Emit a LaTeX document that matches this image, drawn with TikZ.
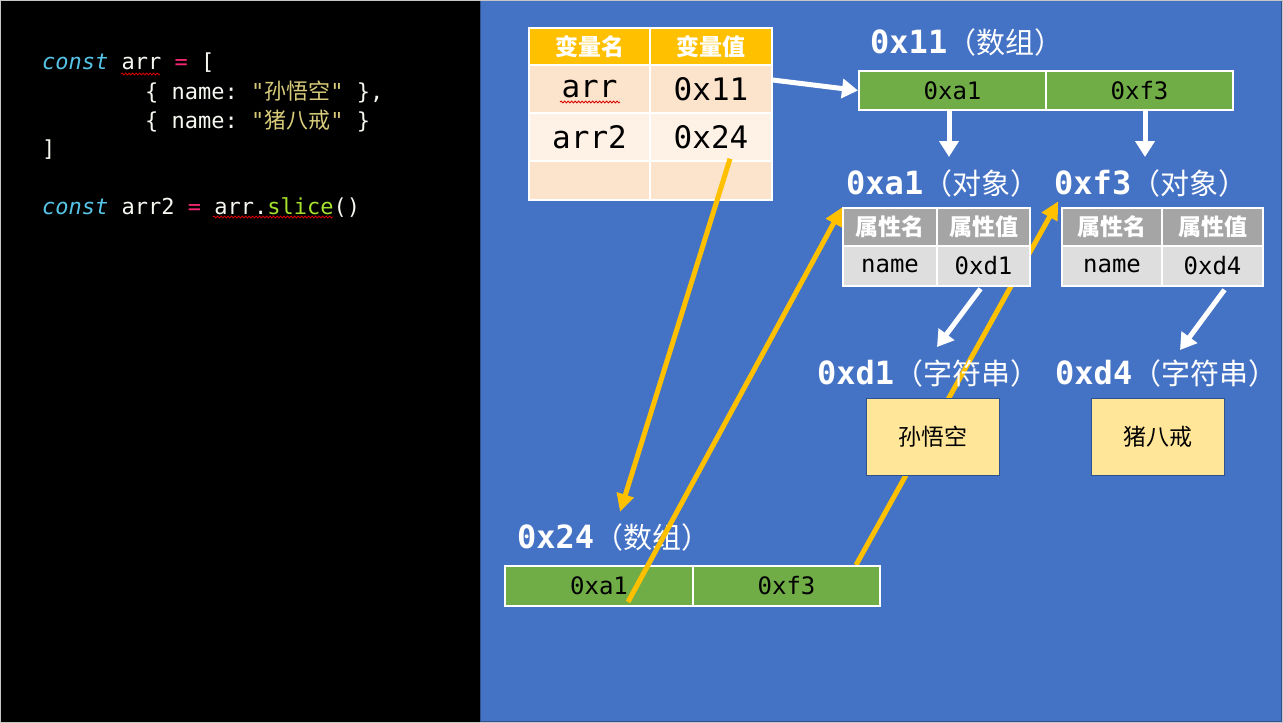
\documentclass[tikz,border=0pt]{standalone}
\usepackage{fontspec}
\setmonofont{DejaVu Sans Mono}
\newfontfamily\cjk{Noto Sans CJK SC}
\usetikzlibrary{arrows.meta,decorations.pathmorphing}

\definecolor{slideblue}{HTML}{4472C4}
\definecolor{slideedge}{HTML}{2F528F}
\definecolor{headorange}{HTML}{FFC000}
\definecolor{peach}{HTML}{FCE4CC}
\definecolor{peachlt}{HTML}{FEF2E6}
\definecolor{arrgreen}{HTML}{70AD47}
\definecolor{objgrey}{HTML}{A5A5A5}
\definecolor{objlight}{HTML}{DEDEDE}
\definecolor{strfill}{HTML}{FFE699}
\definecolor{codecyan}{HTML}{56C4E6}
\definecolor{codepink}{HTML}{F92672}
\definecolor{codestr}{HTML}{D8CB7A}
\definecolor{codegreen}{HTML}{A6E22E}
\definecolor{codewhite}{HTML}{F8F8F2}

\newcommand\memlbl[2]{{\ttfamily\bfseries\fontsize{32}{34}\selectfont #1}{\cjk\fontsize{29}{31}\selectfont #2}}

\pgfdeclarelayer{panel}
\pgfdeclarelayer{under}
\pgfsetlayers{panel,under,main}

\tikzset{
  codeline/.style={anchor=west, inner sep=0pt, text=codewhite, font=\ttfamily\fontsize{22}{26}\selectfont},
  vhead/.style={draw=white, line width=1.5pt, fill=headorange, text=white, minimum height=37pt, inner sep=0pt, font=\cjk\bfseries\fontsize{23}{25}\selectfont},
  vcell/.style={draw=white, line width=1.5pt, inner sep=0pt, font=\ttfamily\fontsize{31}{33}\selectfont},
  arrcell/.style={draw=white, line width=2pt, fill=arrgreen, inner sep=0pt, font=\ttfamily\fontsize{24}{26}\selectfont},
  ohead/.style={draw=white, line width=1.5pt, fill=objgrey, text=white, minimum height=38pt, inner sep=0pt, font=\cjk\bfseries\fontsize{23}{25}\selectfont},
  ocell/.style={draw=white, line width=1.5pt, fill=objlight, minimum height=40pt, inner sep=0pt, font=\ttfamily\fontsize{24}{26}\selectfont},
  memlabel/.style={anchor=west, inner sep=0pt, text=white},
  strbox/.style={draw=slideedge, line width=0.8pt, fill=strfill, minimum width=133pt, minimum height=77pt, font=\cjk\fontsize{23}{25}\selectfont},
  ptr/.style={draw=white, line width=5pt, -{Triangle[width=19pt,length=16pt]}},
  cpy/.style={draw=headorange, line width=5pt, -{Triangle[width=17pt,length=18pt]}},
  squig/.style={draw=red!85!black, line width=0.8pt, decorate, decoration={snake, amplitude=1pt, segment length=3.5pt}}
}

\begin{document}
\begin{tikzpicture}[x=1pt,y=-1pt]
  \useasboundingbox (0,0) rectangle (1283,723);
  \begin{pgfonlayer}{panel}
    \fill[black] (0,0) rectangle (480,723);
    \filldraw[fill=slideblue, draw=slideedge, line width=1pt] (480,-2) rectangle (1281,721);
    \draw[gray!45, line width=1.2pt] (0.6,0.6) rectangle (1282.4,722.4);
  \end{pgfonlayer}

  % code
  \node[codeline] (c1) at (42,63) {{\color{codecyan}\itshape const} arr {\color{codepink}=} [};
  \node[codeline] (c2) at (145,92) {\{ name: {\color{codestr}"{\cjk 孙悟空}"} \},};
  \node[codeline] (c3) at (145,121) {\{ name: {\color{codestr}"{\cjk 猪八戒}"} \}};
  \node[codeline] (c4) at (42,150) {]};
  \node[codeline] (c6) at (42,208) {{\color{codecyan}\itshape const} arr2 {\color{codepink}=} arr.{\color{codegreen}slice}()};
  \draw[squig] (121,74) -- (160,74);
  \draw[squig] (213,217) -- (333,217);

  % variables
  \node[vhead, minimum width=121pt] (vn) at (589.5,46.5) {变量名};
  \node[vhead, minimum width=122pt] (vv) at (711,46.5) {变量值};
  \node[vcell, fill=peach, minimum width=121pt, minimum height=48pt] (v1n) at (589.5,89) {arr};
  \node[vcell, fill=peach, minimum width=122pt, minimum height=48pt] (v1v) at (711,89) {0x11};
  \node[vcell, fill=peachlt, minimum width=121pt, minimum height=48pt] (v2n) at (589.5,137) {arr2};
  \node[vcell, fill=peachlt, minimum width=122pt, minimum height=48pt] (v2v) at (711,137) {0x24};
  \node[vcell, fill=peach, minimum width=121pt, minimum height=39pt] (v3n) at (589.5,180.5) {};
  \node[vcell, fill=peach, minimum width=122pt, minimum height=39pt] (v3v) at (711,180.5) {};
  \draw[squig] (560,102) -- (620,102);

  % array 0x11
  \node[memlabel] (l11) at (870,42) {\memlbl{0x11}{（数组）}};
  \node[arrcell, minimum width=187pt, minimum height=39pt] (a11a) at (952.5,90.5) {0xa1};
  \node[arrcell, minimum width=187pt, minimum height=39pt] (a11b) at (1139.5,90.5) {0xf3};

  % objects
  \node[memlabel] (la1) at (846,183) {\memlbl{0xa1}{（对象）}};
  \node[memlabel] (lf3) at (1054,183) {\memlbl{0xf3}{（对象）}};
  \node[ohead, minimum width=94pt] (o1n) at (890,227) {属性名};
  \node[ohead, minimum width=93pt] (o1v) at (983.5,227) {属性值};
  \node[ocell, minimum width=94pt] (o1k) at (890,266) {name};
  \node[ocell, minimum width=93pt] (o1p) at (983.5,266) {0xd1};
  \node[ohead, minimum width=100pt] (o2n) at (1112,227) {属性名};
  \node[ohead, minimum width=101pt] (o2v) at (1212.5,227) {属性值};
  \node[ocell, minimum width=100pt] (o2k) at (1112,266) {name};
  \node[ocell, minimum width=101pt] (o2p) at (1212.5,266) {0xd4};

  % strings
  \node[memlabel] (ld1) at (817,373) {\memlbl{0xd1}{（字符串）}};
  \node[memlabel] (ld4) at (1055,373) {\memlbl{0xd4}{（字符串）}};
  \node[strbox] (s1) at (932.5,436.5) {孙悟空};
  \node[strbox] (s2) at (1157.5,436.5) {猪八戒};

  % array 0x24
  \node[memlabel] (l24) at (517,537) {\memlbl{0x24}{（数组）}};
  \node[arrcell, minimum width=188pt, minimum height=40pt] (b1) at (599,586) {0xa1};
  \node[arrcell, minimum width=187pt, minimum height=40pt] (b2) at (786.5,586) {0xf3};

  % pointers
  \coordinate (ta1) at (949,157);
  \coordinate (tf3) at (1145,157);
  \coordinate (td1) at (937,347);
  \coordinate (td4) at (1180,350);
  \coordinate (t24) at (620,512);
  \draw[ptr] ([yshift=9pt]v1v.east) -- (a11a.west);
  \draw[ptr] (a11a.south -| ta1) -- (ta1);
  \draw[ptr] (a11b.south -| tf3) -- (tf3);
  \draw[ptr] ([xshift=-3pt,yshift=-2pt]o1p.south) -- (td1);
  \draw[ptr] ([xshift=12pt,yshift=-3pt]o2p.south) -- (td4);

  \draw[cpy] ([xshift=19pt,yshift=3pt]v2v.south) -- (t24);
  \draw[cpy] ([xshift=29pt,yshift=-16pt]b1.center) -- (o1n.north west);
  \begin{pgfonlayer}{under}
    \draw[cpy] ([xshift=-25pt]b2.north east) -- ([shift={(-3pt,6pt)}]o2n.north west);
  \end{pgfonlayer}
\end{tikzpicture}
\end{document}
